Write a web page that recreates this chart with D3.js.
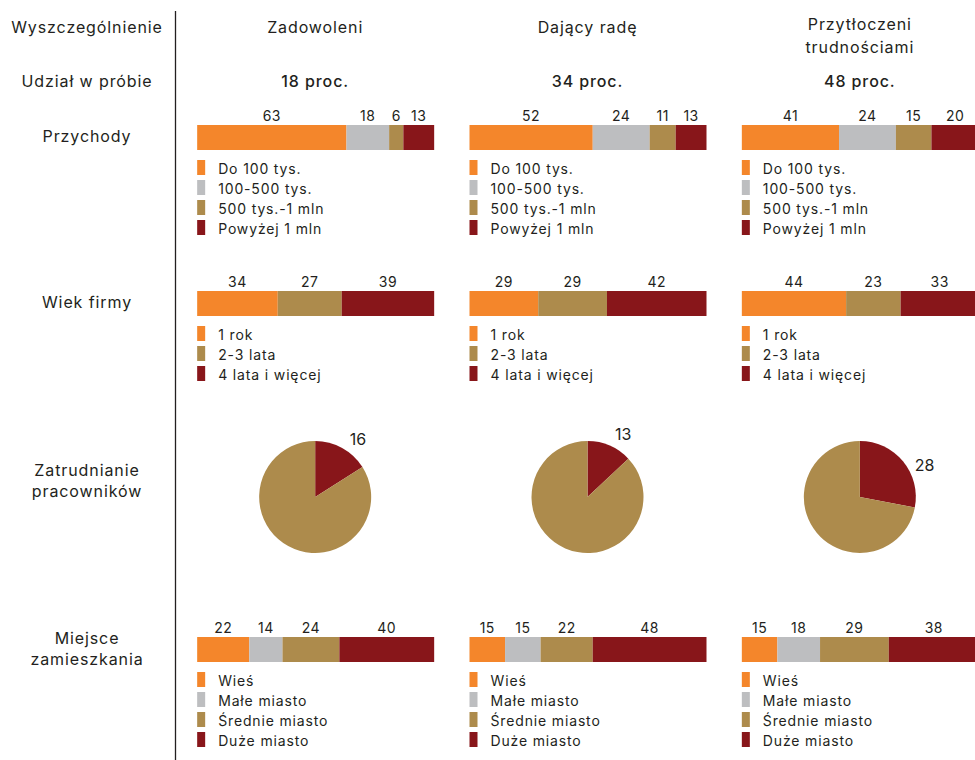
<!DOCTYPE html>
<html><head><meta charset="utf-8">
<script src="https://cdn.jsdelivr.net/npm/d3@7"></script>
<style>
html,body{margin:0;padding:0;background:#fff;}
text{font-family:Inter,"Open Sans",sans-serif;fill:#231f20;}
</style></head>
<body><svg id="c" width="975" height="760"></svg>
<script>
const groups = ["Zadowoleni", "Dający radę", "Przytłoczeni trudnościami"];
const groupLines = [["Zadowoleni"], ["Dający radę"], ["Przytłoczeni", "trudnościami"]];
const shares = [18, 34, 48];
const rowLabels = [["Wyszczególnienie"], ["Udział w próbie"], ["Przychody"], ["Wiek firmy"], ["Zatrudnianie", "pracowników"], ["Miejsce", "zamieszkania"]];

const revenueCats = ["Do 100 tys.", "100-500 tys.", "500 tys.-1 mln", "Powyżej 1 mln"];
const revenue = [[63, 18, 6, 13], [52, 24, 11, 13], [41, 24, 15, 20]];

const ageCats = ["1 rok", "2-3 lata", "4 lata i więcej"];
const age = [[34, 27, 39], [29, 29, 42], [44, 23, 33]];

const employing = [16, 13, 28];

const placeCats = ["Wieś", "Małe miasto", "Średnie miasto", "Duże miasto"];
const place = [[22, 14, 24, 40], [15, 15, 22, 48], [15, 18, 29, 38]];

const C = {orange: "#f4862b", gray: "#bdbec0", tan: "#ad8b4c", red: "#88161a"};
const revenueColors = [C.orange, C.gray, C.tan, C.red];
const ageColors = [C.orange, C.tan, C.red];
const placeColors = [C.orange, C.gray, C.tan, C.red];

const svg = d3.select("#c");
const FS = 16;
const LS = "0.9px";

// column positions
const col = d3.scaleBand().domain(groups).range([179, 996]).padding(0);
const cx = g => col(g) + col.bandwidth() / 2;
const barW = 237;
const x = d3.scaleLinear().domain([0, 100]).range([0, barW]);

// divider
svg.append("line").attr("x1", 175.5).attr("x2", 175.5).attr("y1", 11).attr("y2", 760)
  .attr("stroke", "#231f20").attr("stroke-width", 1.3);

// row labels
const rowY = [27, 81, 136, 302, 470, 638];
rowLabels.forEach((lines, i) => {
  lines.forEach((l, j) => {
    svg.append("text").attr("x", 87).attr("y", rowY[i] + j * 21).attr("dy", "0.35em")
      .attr("text-anchor", "middle").attr("font-size", FS).attr("letter-spacing", LS).text(l);
  });
});

// group headers
groups.forEach((g, i) => {
  const lines = groupLines[i];
  const y0 = lines.length === 1 ? 27 : 24;
  lines.forEach((l, j) => {
    svg.append("text").attr("x", cx(g)).attr("y", y0 + j * 23).attr("dy", "0.35em")
      .attr("text-anchor", "middle").attr("font-size", FS).attr("letter-spacing", LS).text(l);
  });
  svg.append("text").attr("x", cx(g)).attr("y", 81).attr("dy", "0.35em")
    .attr("text-anchor", "middle").attr("font-size", FS).attr("font-weight", 500).attr("letter-spacing", LS)
    .text(shares[i] + " proc.");
});

function stackedRow(values, cats, colors, top) {
  groups.forEach((g, i) => {
    const left = col(g) + col.bandwidth() / 2 - 118;
    const vals = values[i];
    let cum = 0;
    const segs = vals.map((v, k) => { const s = {v, k, start: cum}; cum += v; return s; });
    const gr = svg.append("g").attr("transform", `translate(${left},0)`);
    gr.selectAll("rect.seg").data(segs).join("rect").attr("class", "seg")
      .attr("x", d => x(d.start)).attr("y", top).attr("width", d => x(d.v)).attr("height", 25)
      .attr("fill", d => colors[d.k]);
    gr.selectAll("text.val").data(segs).join("text").attr("class", "val")
      .attr("x", d => x(d.start + d.v / 2)).attr("y", top - 4)
      .attr("text-anchor", "middle").attr("font-size", 14).attr("letter-spacing", "0.5px").text(d => d.v);
    const lg = gr.selectAll("g.lg").data(cats).join("g").attr("class", "lg")
      .attr("transform", (d, k) => `translate(0,${top + 35 + k * 20})`);
    lg.append("rect").attr("x", 0).attr("y", 0).attr("width", 8).attr("height", 15)
      .attr("fill", (d, k) => colors[k]);
    lg.append("text").attr("x", 21).attr("y", 13.5).attr("font-size", 14).attr("letter-spacing", "0.85px").text(d => d);
  });
}

stackedRow(revenue, revenueCats, revenueColors, 125);
stackedRow(age, ageCats, ageColors, 291);
stackedRow(place, placeCats, placeColors, 637);

// pies
const pie = d3.pie().sort(null).value(d => d);
const R = 56;
const arc = d3.arc().innerRadius(0).outerRadius(R);
groups.forEach((g, i) => {
  const v = employing[i];
  const arcs = pie([v, 100 - v]);
  const gp = svg.append("g").attr("transform", `translate(${cx(g)},497)`);
  gp.selectAll("path").data(arcs).join("path").attr("d", arc)
    .attr("fill", (d, k) => k === 0 ? C.red : C.tan);
  const a = arcs[0];
  const mid = (a.startAngle + a.endAngle) / 2 * 1.27;
  const lr = 72;
  gp.append("text").attr("x", lr * Math.sin(mid)).attr("y", -lr * Math.cos(mid)).attr("dy", "0.35em")
    .attr("text-anchor", "middle").attr("font-size", 16).text(v);
});
</script></body></html>
